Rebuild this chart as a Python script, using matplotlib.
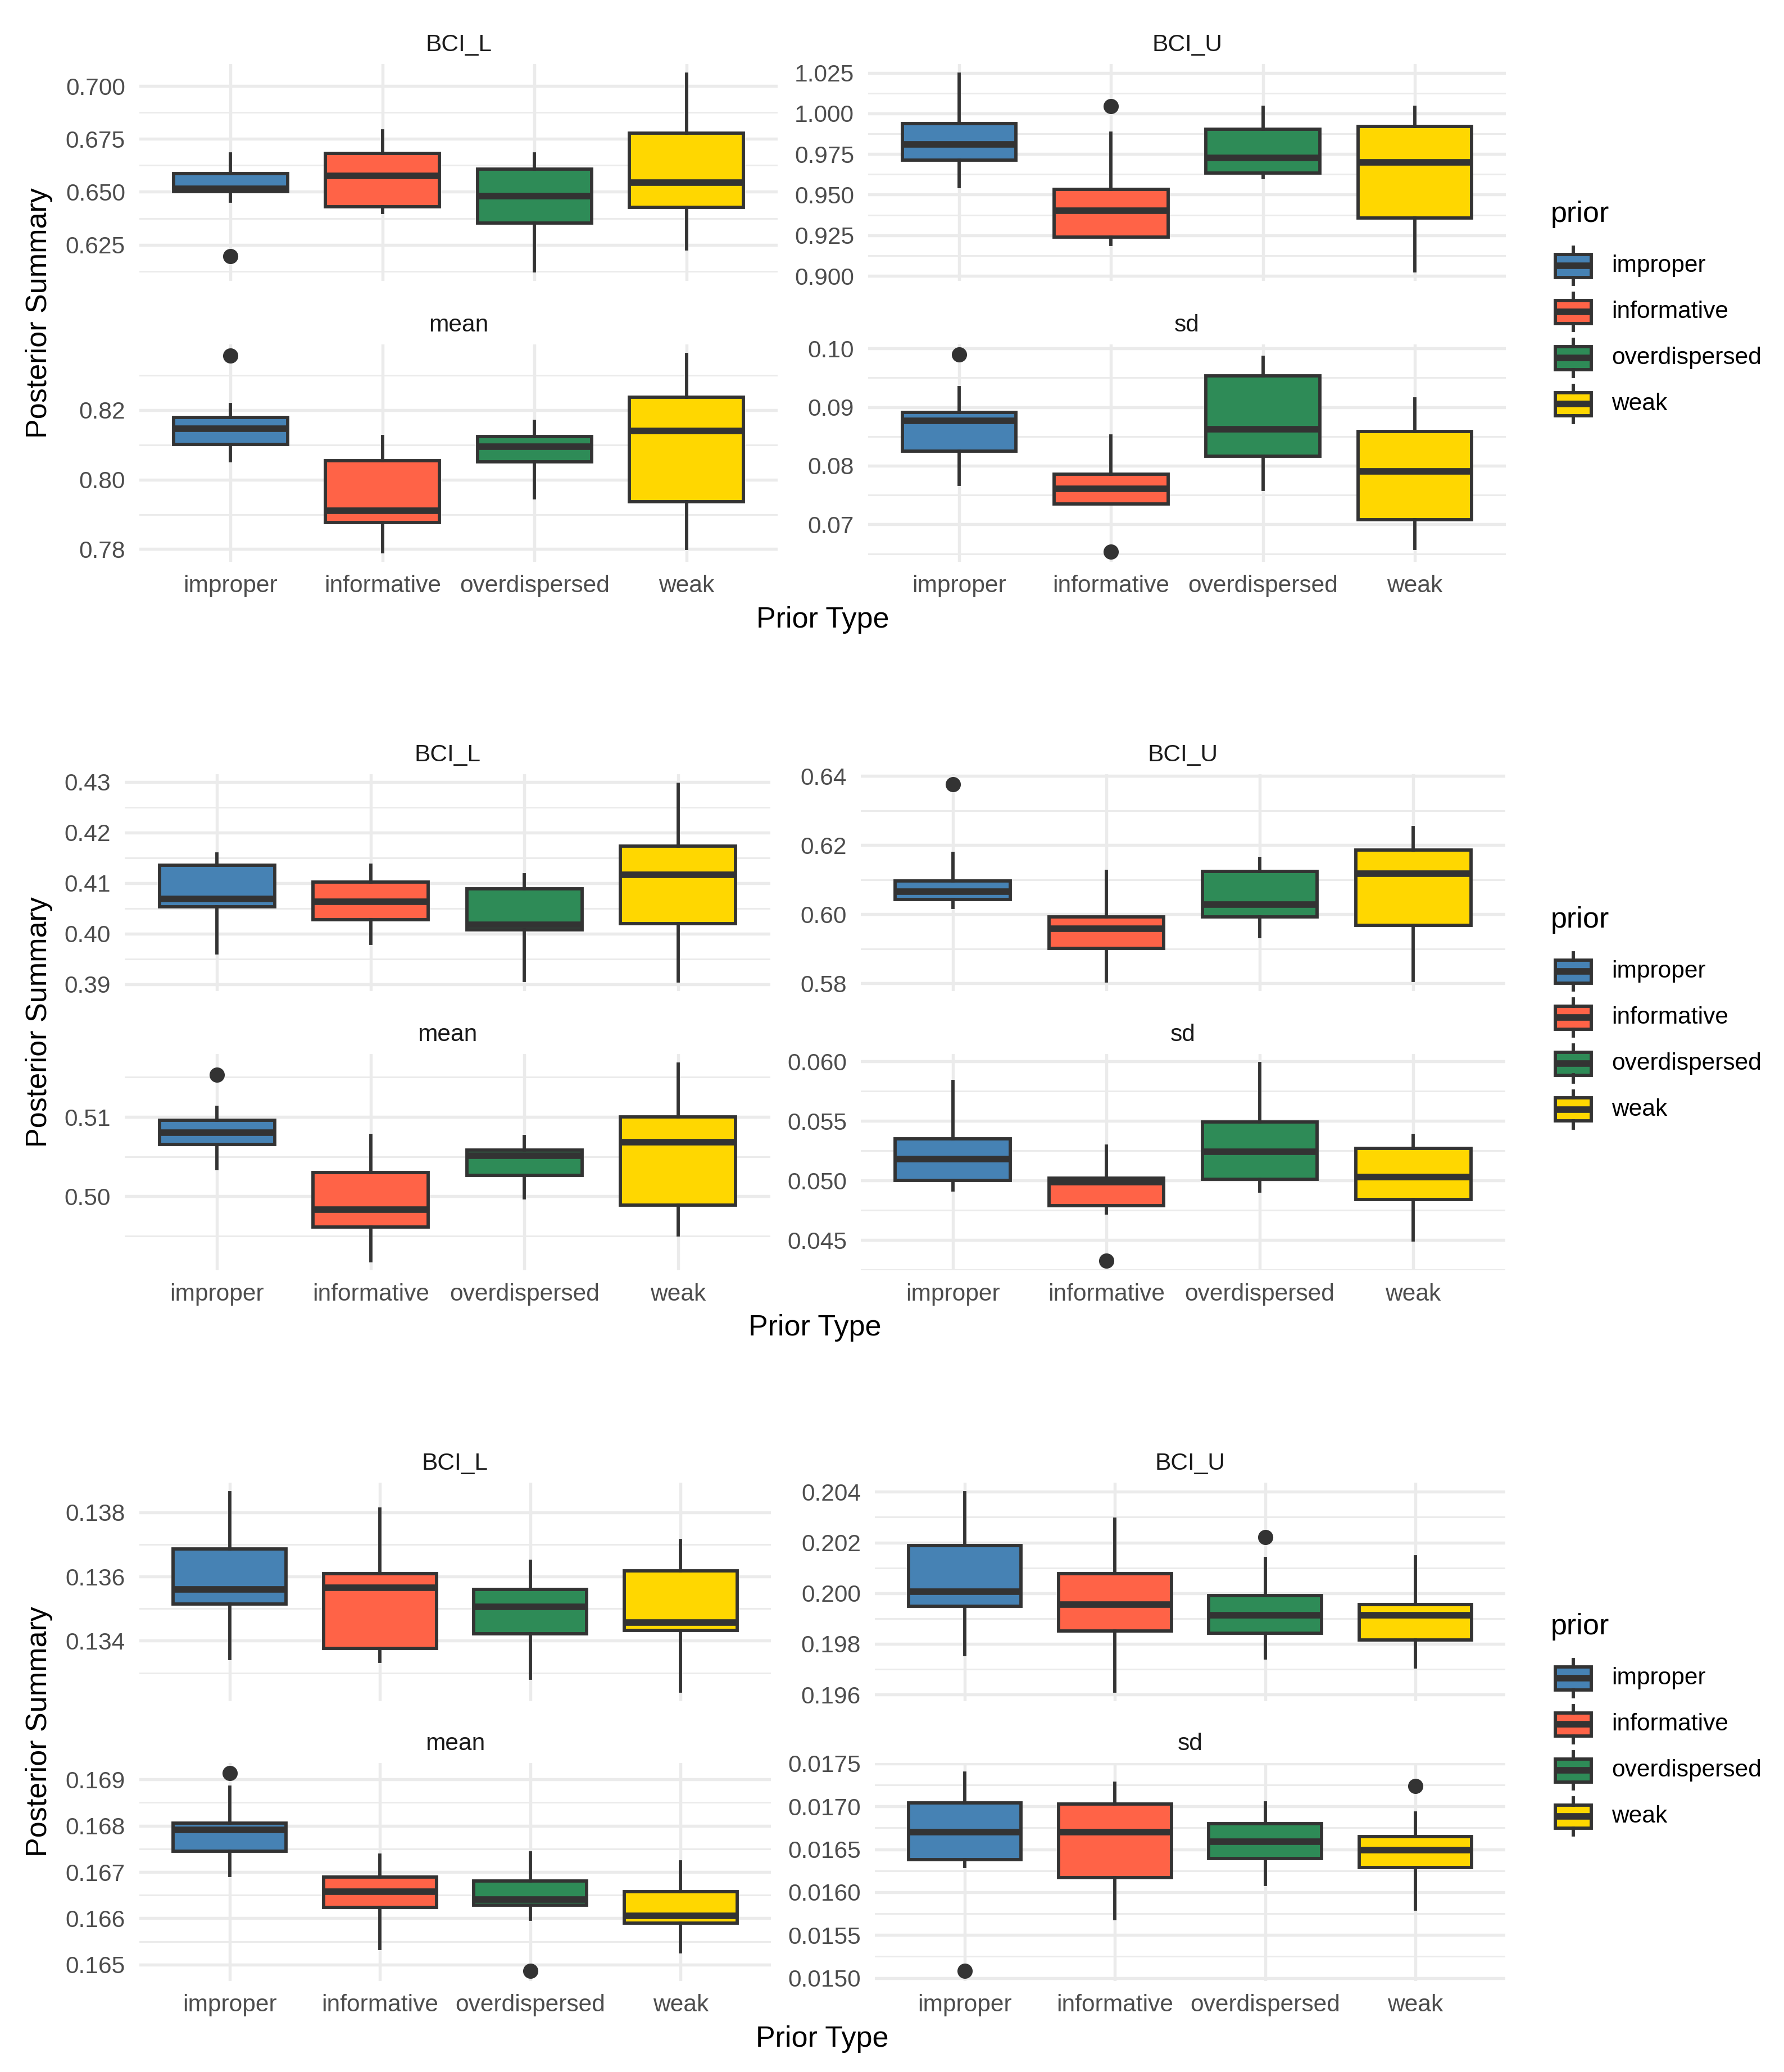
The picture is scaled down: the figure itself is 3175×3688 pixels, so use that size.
import numpy as np
import matplotlib
matplotlib.use("Agg")
import matplotlib.pyplot as plt
from matplotlib.patches import Rectangle

plt.rcParams['font.family'] = ['Liberation Sans', 'DejaVu Sans']

priors = ['improper', 'informative', 'overdispersed', 'weak']
colors = ['#4682B4', '#FF6347', '#2E8B57', '#FFD700']

# each row: [lower whisker, Q1, median, Q3, upper whisker]
g1_bci_l = [[0.6457, 0.6500, 0.6515, 0.6585, 0.6678],
            [0.6402, 0.6430, 0.6576, 0.6681, 0.6787],
            [0.6126, 0.6353, 0.6479, 0.6608, 0.6678],
            [0.6231, 0.6426, 0.6543, 0.6776, 0.7057]]
g1_bci_l_out = [[0.6196], [], [], []]
g1_bci_u = [[0.9549, 0.9713, 0.9809, 0.9936, 1.0243],
            [0.9194, 0.9240, 0.9402, 0.9532, 0.9877],
            [0.9605, 0.9632, 0.9725, 0.9902, 1.0039],
            [0.9030, 0.9358, 0.9698, 0.9921, 1.0039]]
g1_bci_u_out = [[], [1.0044], [], []]
g1_mean = [[0.8054, 0.8101, 0.8146, 0.8178, 0.8215],
           [0.7792, 0.7876, 0.7911, 0.8054, 0.8123],
           [0.7948, 0.8051, 0.8094, 0.8123, 0.8167],
           [0.7803, 0.7936, 0.8140, 0.8236, 0.8360]]
g1_mean_out = [[0.8356], [], [], []]
g1_sd = [[0.0768, 0.0825, 0.0877, 0.0891, 0.0933],
         [0.0735, 0.0735, 0.0761, 0.0786, 0.0851],
         [0.0760, 0.0816, 0.0862, 0.0953, 0.0985],
         [0.0659, 0.0708, 0.0790, 0.0858, 0.0914]]
g1_sd_out = [[0.0990], [0.0653], [], []]

g2_bci_l = [[0.3962, 0.4053, 0.4069, 0.4135, 0.4158],
            [0.3981, 0.4028, 0.4063, 0.4102, 0.4136],
            [0.3908, 0.4008, 0.4018, 0.4089, 0.4117],
            [0.3906, 0.4020, 0.4117, 0.4173, 0.4296]]
g2_bci_l_out = [[], [], [], []]
g2_bci_u = [[0.6020, 0.6042, 0.6065, 0.6097, 0.6176],
            [0.5806, 0.5901, 0.5958, 0.5992, 0.6124],
            [0.5935, 0.5993, 0.6028, 0.6124, 0.6162],
            [0.5808, 0.5968, 0.6118, 0.6186, 0.6251]]
g2_bci_u_out = [[0.6377], [], [], []]
g2_mean = [[0.5035, 0.5065, 0.5080, 0.5096, 0.5112],
           [0.4919, 0.4961, 0.4983, 0.5030, 0.5077],
           [0.4998, 0.5026, 0.5051, 0.5058, 0.5075],
           [0.4951, 0.4989, 0.5068, 0.5100, 0.5167]]
g2_mean_out = [[0.5153], [], [], []]
g2_sd = [[0.0492, 0.0500, 0.0518, 0.0535, 0.0583],
         [0.0473, 0.0479, 0.0499, 0.0502, 0.0529],
         [0.0491, 0.0501, 0.0524, 0.0549, 0.0598],
         [0.0450, 0.0484, 0.0503, 0.0527, 0.0538]]
g2_sd_out = [[], [0.0433], [], []]

g3_bci_l = [[0.13345, 0.13514, 0.13559, 0.13686, 0.13861],
            [0.13336, 0.13376, 0.13565, 0.13608, 0.13809],
            [0.13284, 0.13421, 0.13506, 0.13559, 0.13647],
            [0.13243, 0.13433, 0.13456, 0.13617, 0.13712]]
g3_bci_l_out = [[], [], [], []]
g3_bci_u = [[0.19758, 0.19949, 0.20007, 0.20188, 0.20397],
            [0.19613, 0.19851, 0.19955, 0.20076, 0.20292],
            [0.19745, 0.19843, 0.19914, 0.19990, 0.20136],
            [0.19709, 0.19815, 0.19912, 0.19955, 0.20143]]
g3_bci_u_out = [[], [], [0.20222], []]
g3_mean = [[0.16693, 0.16745, 0.16791, 0.16806, 0.16883],
           [0.16535, 0.16623, 0.16658, 0.16689, 0.16736],
           [0.16598, 0.16628, 0.16641, 0.16681, 0.16741],
           [0.16528, 0.16589, 0.16605, 0.16658, 0.16722]]
g3_mean_out = [[0.16914], [], [0.16486], []]
g3_sd = [[0.01630, 0.01638, 0.01670, 0.01704, 0.01739],
         [0.01569, 0.01617, 0.01670, 0.01703, 0.01727],
         [0.01609, 0.01639, 0.01659, 0.01680, 0.01704],
         [0.01580, 0.01629, 0.01649, 0.01665, 0.01692]]
g3_sd_out = [[0.01508], [], [], [0.01724]]

# y tick labels per panel
g1_ticks = {'BCI_L': ['0.625', '0.650', '0.675', '0.700'],
            'BCI_U': ['0.900', '0.925', '0.950', '0.975', '1.000', '1.025'],
            'mean': ['0.78', '0.80', '0.82'],
            'sd': ['0.07', '0.08', '0.09', '0.10']}
g2_ticks = {'BCI_L': ['0.39', '0.40', '0.41', '0.42', '0.43'],
            'BCI_U': ['0.58', '0.60', '0.62', '0.64'],
            'mean': ['0.50', '0.51'],
            'sd': ['0.045', '0.050', '0.055', '0.060']}
g3_ticks = {'BCI_L': ['0.134', '0.136', '0.138'],
            'BCI_U': ['0.196', '0.198', '0.200', '0.202', '0.204'],
            'mean': ['0.165', '0.166', '0.167', '0.168', '0.169'],
            'sd': ['0.0150', '0.0155', '0.0160', '0.0165', '0.0170', '0.0175']}

groups = [
    ({'BCI_L': (g1_bci_l, g1_bci_l_out), 'BCI_U': (g1_bci_u, g1_bci_u_out),
      'mean': (g1_mean, g1_mean_out), 'sd': (g1_sd, g1_sd_out)}, g1_ticks),
    ({'BCI_L': (g2_bci_l, g2_bci_l_out), 'BCI_U': (g2_bci_u, g2_bci_u_out),
      'mean': (g2_mean, g2_mean_out), 'sd': (g2_sd, g2_sd_out)}, g2_ticks),
    ({'BCI_L': (g3_bci_l, g3_bci_l_out), 'BCI_U': (g3_bci_u, g3_bci_u_out),
      'mean': (g3_mean, g3_mean_out), 'sd': (g3_sd, g3_sd_out)}, g3_ticks),
]

W, H = 3175, 3688
fig = plt.figure(figsize=(W / 300, H / 300), dpi=300)

# panel boxes in pixels: left cols, right cols, rows, legend title y, first key y
layout = [
    dict(lx=(248, 1384), rx=(1545, 2680), rows=((114, 500), (613, 1000)), leg=382, key=473),
    dict(lx=(222, 1371), rx=(1532, 2679), rows=((1378, 1764), (1876, 2261)), leg=1638, key=1729),
    dict(lx=(248, 1372), rx=(1557, 2679), rows=((2639, 3028), (3138, 3526)), leg=2896, key=2987),
]

EDGE = '#333333'
GRID = '#EBEBEB'
SMALL = 10.2
BIG = 12.5


def add_ax(l, t, r, b):
    return fig.add_axes([l / W, 1 - b / H, (r - l) / W, (b - t) / H])


def draw_panel(ax, name, stats, outs, ticks, bottom):
    bstats = []
    for s, o in zip(stats, outs):
        bstats.append(dict(whislo=s[0], q1=s[1], med=s[2], q3=s[3], whishi=s[4], fliers=o))
    bp = ax.bxp(bstats, positions=[1, 2, 3, 4], widths=0.75, patch_artist=True,
                showcaps=False,
                boxprops=dict(edgecolor=EDGE, linewidth=1.4),
                whiskerprops=dict(color=EDGE, linewidth=1.4),
                medianprops=dict(color=EDGE, linewidth=2.8, solid_capstyle='butt'),
                flierprops=dict(marker='o', markerfacecolor=EDGE, markeredgecolor=EDGE,
                                markersize=5.5))
    for patch, c in zip(bp['boxes'], colors):
        patch.set_facecolor(c)

    vals = [v for s in stats for v in s] + [v for o in outs for v in o]
    lo, hi = min(vals), max(vals)
    pad = 0.05 * (hi - lo)
    ax.set_ylim(lo - pad, hi + pad)
    ax.set_xlim(0.4, 4.6)

    major = [float(t) for t in ticks]
    step = major[1] - major[0]
    minor = np.arange(major[0] - step / 2, major[-1] + step, step)
    minor = [m for m in minor if lo - pad <= m <= hi + pad]
    ax.set_yticks(major)
    ax.set_yticklabels(ticks)
    ax.set_yticks(minor, minor=True)
    ax.set_xticks([1, 2, 3, 4])
    ax.set_xticklabels(priors)

    ax.set_axisbelow(True)
    ax.grid(which='major', color=GRID, linewidth=1.3)
    ax.grid(which='minor', axis='y', color=GRID, linewidth=0.7)
    for sp in ax.spines.values():
        sp.set_visible(False)
    ax.tick_params(which='both', length=0)
    ax.tick_params(axis='y', labelsize=SMALL, labelcolor='#4D4D4D', pad=6)
    ax.tick_params(axis='x', labelsize=SMALL, labelcolor='#4D4D4D', pad=5.5,
                   labelbottom=bottom)
    ax.set_title(name, fontsize=SMALL, color='#1A1A1A', pad=5.5)


def draw_legend(key_y, title_y):
    fig.text(2760 / W, 1 - title_y / H, 'prior', fontsize=BIG, ha='left', va='center')
    kh = 82
    lax = add_ax(2757, key_y - kh / 2, 2843, key_y + kh * 3.5)
    lax.set_xlim(0, 1)
    lax.set_ylim(4, 0)
    lax.axis('off')
    for i, (p, c) in enumerate(zip(priors, colors)):
        lax.plot([0.5, 0.5], [i + 0.1, i + 0.25], color=EDGE, lw=1.4)
        lax.plot([0.5, 0.5], [i + 0.75, i + 0.9], color=EDGE, lw=1.4)
        lax.add_patch(Rectangle((0.125, i + 0.25), 0.75, 0.5, facecolor=c,
                                edgecolor=EDGE, lw=1.4))
        lax.plot([0.125, 0.875], [i + 0.5, i + 0.5], color=EDGE, lw=2.8,
                 solid_capstyle='butt')
        fig.text(2868 / W, 1 - (key_y + kh * i) / H, p, fontsize=SMALL,
                 ha='left', va='center')


for (panels, ticks), lay in zip(groups, layout):
    (t1, b1), (t2, b2) = lay['rows']
    spots = {'BCI_L': (lay['lx'], t1, b1, False), 'BCI_U': (lay['rx'], t1, b1, False),
             'mean': (lay['lx'], t2, b2, True), 'sd': (lay['rx'], t2, b2, True)}
    for name, ((l, r), t, b, bottom) in spots.items():
        ax = add_ax(l, t, r, b)
        stats, outs = panels[name]
        draw_panel(ax, name, stats, outs, ticks[name], bottom)

    fig.text(70 / W, 1 - ((t1 + b2) / 2) / H, 'Posterior Summary', rotation=90,
             fontsize=BIG, ha='center', va='center')
    fig.text(((lay['lx'][0] + lay['rx'][1]) / 2) / W, 1 - (b2 + 103) / H, 'Prior Type',
             fontsize=BIG, ha='center', va='center')
    draw_legend(lay['key'], lay['leg'])

fig.savefig('out.png', dpi=300, facecolor='white')
